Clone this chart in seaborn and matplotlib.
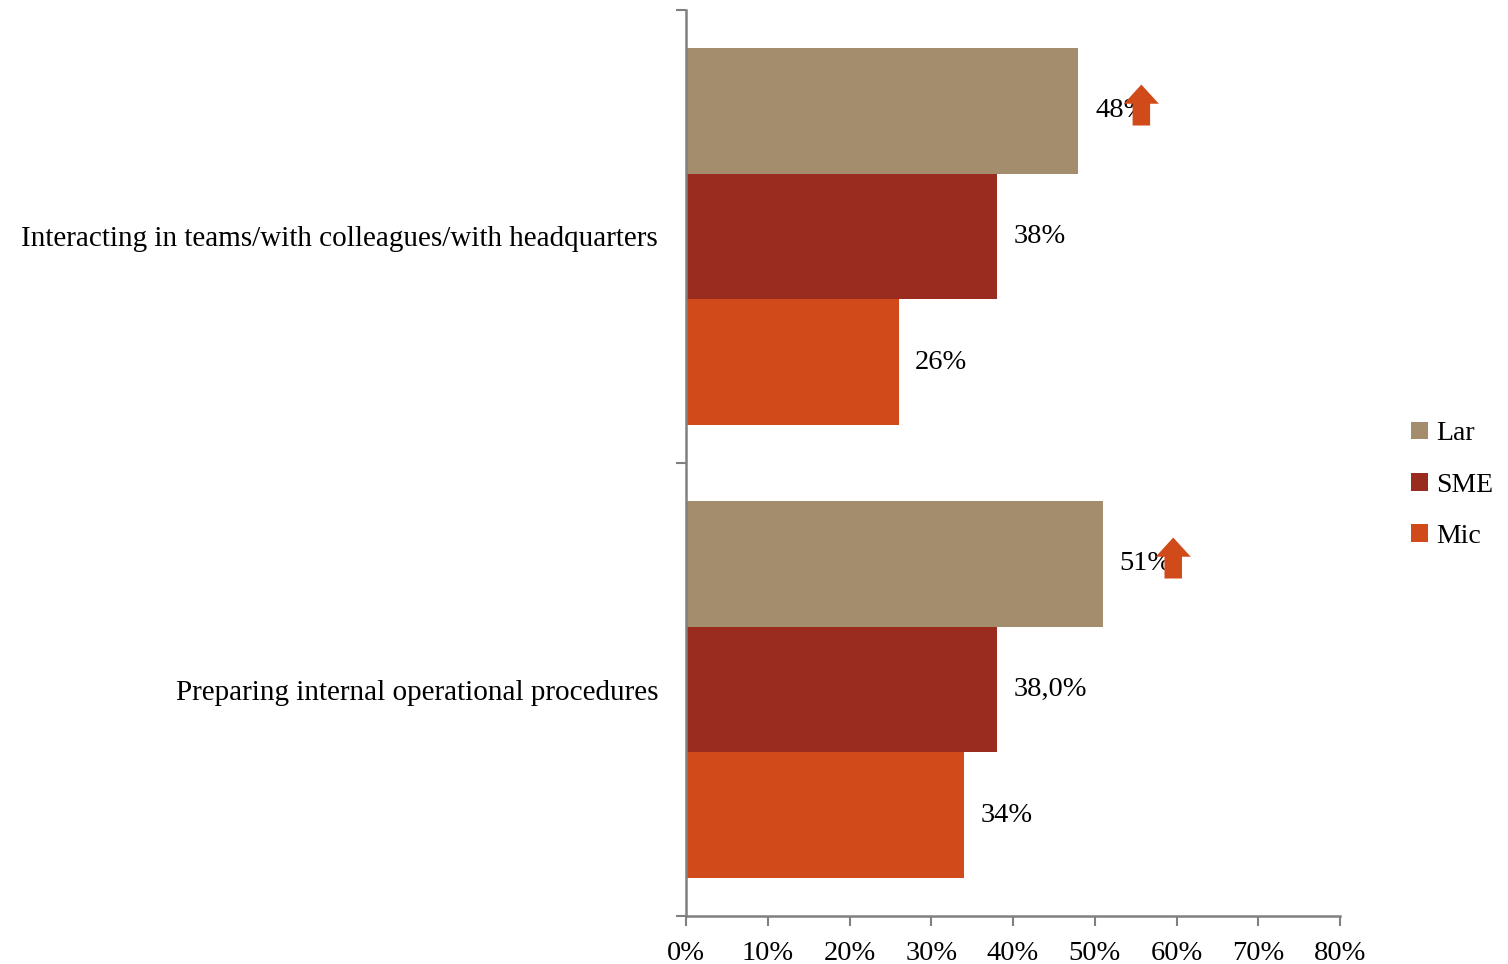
import matplotlib
matplotlib.use("Agg")
import matplotlib.pyplot as plt
import seaborn as sns
import pandas as pd
from matplotlib.ticker import FixedLocator, FuncFormatter

categories = ["Interacting in teams/with colleagues/with headquarters",
              "Preparing internal operational procedures"]
series = ["Lar", "SME", "Mic"]
values_lar = [48, 51]
values_sme = [38, 38]
values_mic = [26, 34]
labels_lar = ["48%", "51%"]
labels_sme = ["38%", "38,0%"]
labels_mic = ["26%", "34%"]
xticks = [0, 10, 20, 30, 40, 50, 60, 70, 80]
colors = ["#A38D6D", "#9A2B1F", "#D14A19"]
arrow_color = "#D14A19"

sns.set_theme(style="white")
plt.rcParams["font.family"] = ["Liberation Serif", "DejaVu Serif"]

rows = []
for s, vals in zip(series, [values_lar, values_sme, values_mic]):
    for c, v in zip(categories, vals):
        rows.append({"category": c, "series": s, "value": v})
df = pd.DataFrame(rows)

fig = plt.figure(figsize=(15.08, 9.64), dpi=100)
ax = fig.add_axes([686/1508, 1-916/964, (1340-686)/1508, (916-10)/964])

sns.barplot(data=df, y="category", x="value", hue="series", order=categories,
            hue_order=series, palette=colors, orient="h", width=0.834,
            gap=0, saturation=1, ax=ax, linewidth=0, legend=True)

ax.set_xlim(0, 80)
ax.set_ylim(1.5, -0.5)
ax.set_xlabel("")
ax.set_ylabel("")

# labels
all_labels = [labels_lar, labels_sme, labels_mic]
for cont, labs in zip(ax.containers, all_labels):
    ax.bar_label(cont, labels=labs, padding=12, fontsize=20.5, color="black")

# arrows after Lar labels
lar_cont = ax.containers[0]
for bar, off in zip(lar_cont, [7.7, 8.6]):
    xv = bar.get_width() + off
    yc = bar.get_y() + bar.get_height() / 2
    ax.annotate("", xy=(xv, yc - 0.0574), xytext=(xv, yc + 0.033),
                arrowprops=dict(arrowstyle="simple,head_width=2.1,head_length=1.15,tail_width=1.05",
                                color=arrow_color, lw=0, shrinkA=0, shrinkB=0))

# axes styling
for sp in ["top", "right"]:
    ax.spines[sp].set_visible(False)
for sp in ["left", "bottom"]:
    ax.spines[sp].set_color("#808080")
    ax.spines[sp].set_linewidth(1.8)

ax.xaxis.set_major_locator(FixedLocator(xticks))
ax.xaxis.set_major_formatter(FuncFormatter(lambda v, p: f"{int(v)}%"))
ax.tick_params(axis="x", which="major", direction="out", length=7, width=1.5,
               color="#808080", labelsize=20.5, labelcolor="black", pad=11, bottom=True)
ax.set_yticks([0, 1])
ax.set_yticklabels(categories)
ax.tick_params(axis="y", which="major", length=0, labelsize=21, labelcolor="black", pad=20)
ax.yaxis.set_minor_locator(FixedLocator([-0.5, 0.5, 1.5]))
ax.tick_params(axis="y", which="minor", direction="out", length=7, width=1.5,
               color="#808080", left=True)

leg = ax.legend(loc="upper left", bbox_to_anchor=(1400/1508, 1-410/964),
                bbox_transform=fig.transFigure, frameon=False, fontsize=20,
                handlelength=0.6, handleheight=0.6, handletextpad=0.3,
                labelspacing=0.95, borderaxespad=0)
for t in leg.get_texts():
    t.set_color("black")

fig.savefig("out.png", dpi=100)
